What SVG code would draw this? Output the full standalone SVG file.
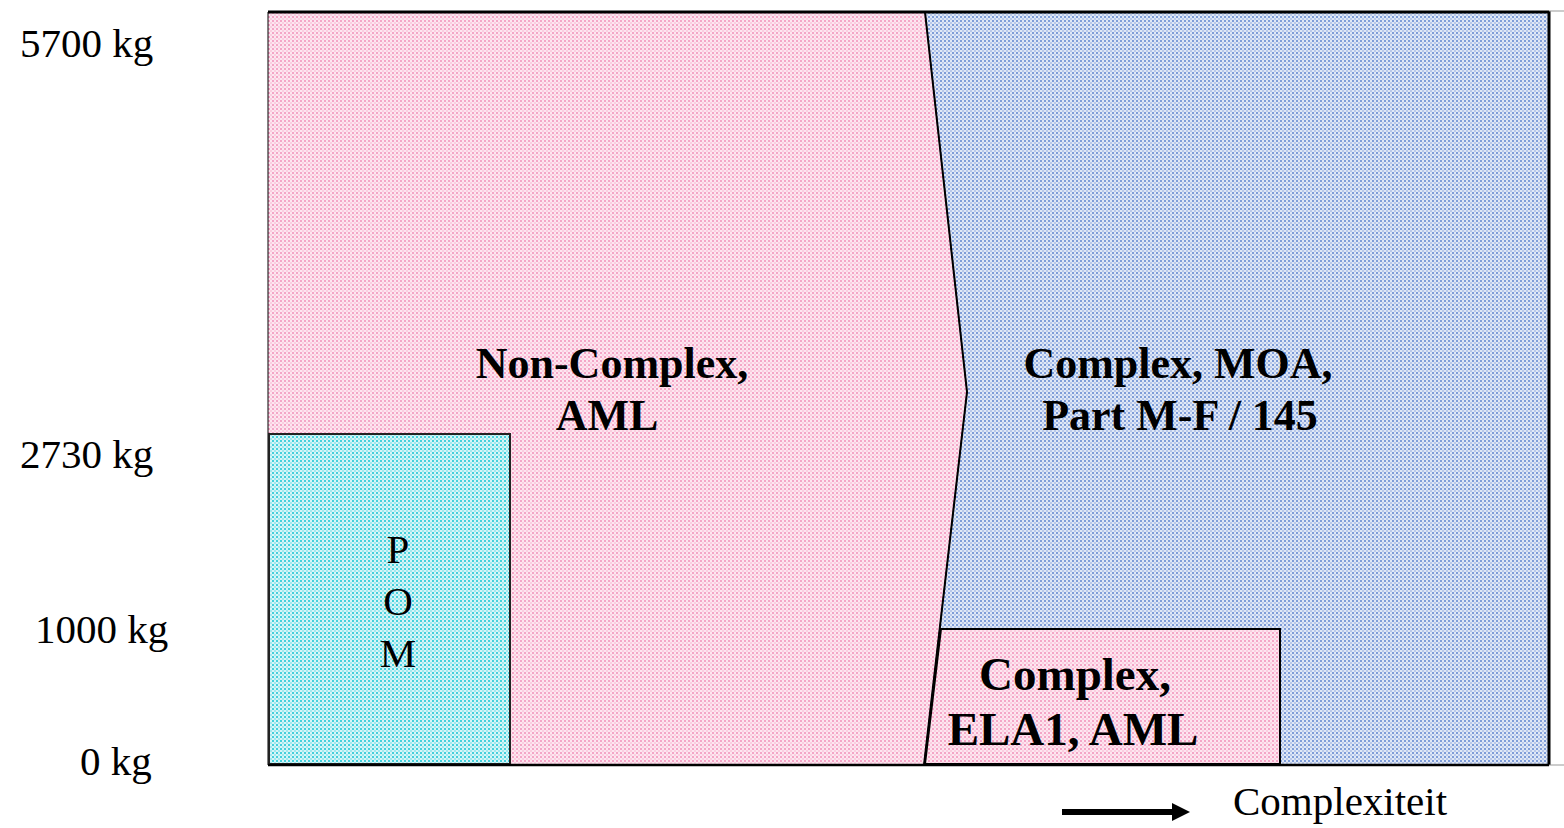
<svg xmlns="http://www.w3.org/2000/svg" width="1564" height="828" viewBox="0 0 1564 828">
<style>
.lbl{font-family:"Liberation Serif","Times New Roman",serif;font-size:41px;fill:#000}
.big{font-family:"Liberation Serif","Times New Roman",serif;font-weight:bold;font-size:44px;fill:#000;text-anchor:middle}
.edge{stroke:#000;stroke-width:2;fill:none}
</style>
<defs>
<pattern id="pk" width="4" height="4" patternUnits="userSpaceOnUse">
<rect width="4" height="4" fill="#fde6f0"/>
<rect width="2" height="2" fill="#f4a6c7"/>
<rect x="2" y="2" width="2" height="2" fill="#facee0"/>
</pattern>
<pattern id="bl" width="4" height="4" patternUnits="userSpaceOnUse">
<rect width="4" height="4" fill="#e0e8f6"/>
<rect width="2" height="2" fill="#7f9dd8"/>
<rect x="2" y="2" width="2" height="2" fill="#b8c8ea"/>
</pattern>
<pattern id="cy" width="4" height="4" patternUnits="userSpaceOnUse">
<rect width="4" height="4" fill="#d8f5f7"/>
<rect width="2" height="2" fill="#45d0dc"/>
<rect x="2" y="2" width="2" height="2" fill="#a0e8ee"/>
</pattern>
</defs>
<g id="node-complex-moa">
<polygon points="925,12 1549,12 1549,765 924,765 967,392" fill="url(#bl)"/>
<text class="big" x="1178" y="378">Complex, MOA,</text>
<text class="big" x="1180" y="430">Part M-F / 145</text>
</g>
<g id="node-noncomplex">
<polygon points="268,12 925,12 967,392 924,765 268,765" fill="url(#pk)" stroke="#000" stroke-width="1"/>
<text class="big" x="612" y="378">Non-Complex,</text>
<text class="big" x="607" y="430">AML</text>
</g>
<g id="node-pom">
<rect x="269" y="434" width="241" height="330" fill="url(#cy)" stroke="#222" stroke-width="2"/>
<text class="lbl" x="398" y="563" text-anchor="middle">P</text>
<text class="lbl" x="398" y="615" text-anchor="middle">O</text>
<text class="lbl" x="398" y="667" text-anchor="middle">M</text>
</g>
<g id="node-ela1">
<polygon points="941,629 1280,629 1280,764 925,764" fill="url(#pk)" stroke="#000" stroke-width="2"/>
<text class="big" x="1075" y="690" style="font-size:47px">Complex,</text>
<text class="big" x="1073" y="745" style="font-size:47px">ELA1, AML</text>
</g>
<g id="connectors">
<polyline class="edge" points="925,12 967,392 924,765"/>
<line x1="268" y1="12" x2="1549" y2="12" stroke="#000" stroke-width="3"/>
<line x1="1549" y1="11" x2="1549" y2="765" stroke="#000" stroke-width="3"/>
<line x1="268" y1="765" x2="1549" y2="765" stroke="#000" stroke-width="2.5"/>
<line x1="1549" y1="765" x2="1564" y2="765" stroke="#999" stroke-width="1"/>
<line x1="1549" y1="11" x2="1564" y2="11" stroke="#999" stroke-width="1"/>
<line x1="1062" y1="812" x2="1174" y2="812" stroke="#000" stroke-width="6"/>
<polygon points="1172,803 1190,812 1172,821" fill="#000"/>
</g>
<g id="axis-labels">
<text class="lbl" x="20" y="57">5700 kg</text>
<text class="lbl" x="20" y="468">2730 kg</text>
<text class="lbl" x="35" y="643">1000 kg</text>
<text class="lbl" x="80" y="775">0 kg</text>
<text class="lbl" x="1233" y="815">Complexiteit</text>
</g>
</svg>
